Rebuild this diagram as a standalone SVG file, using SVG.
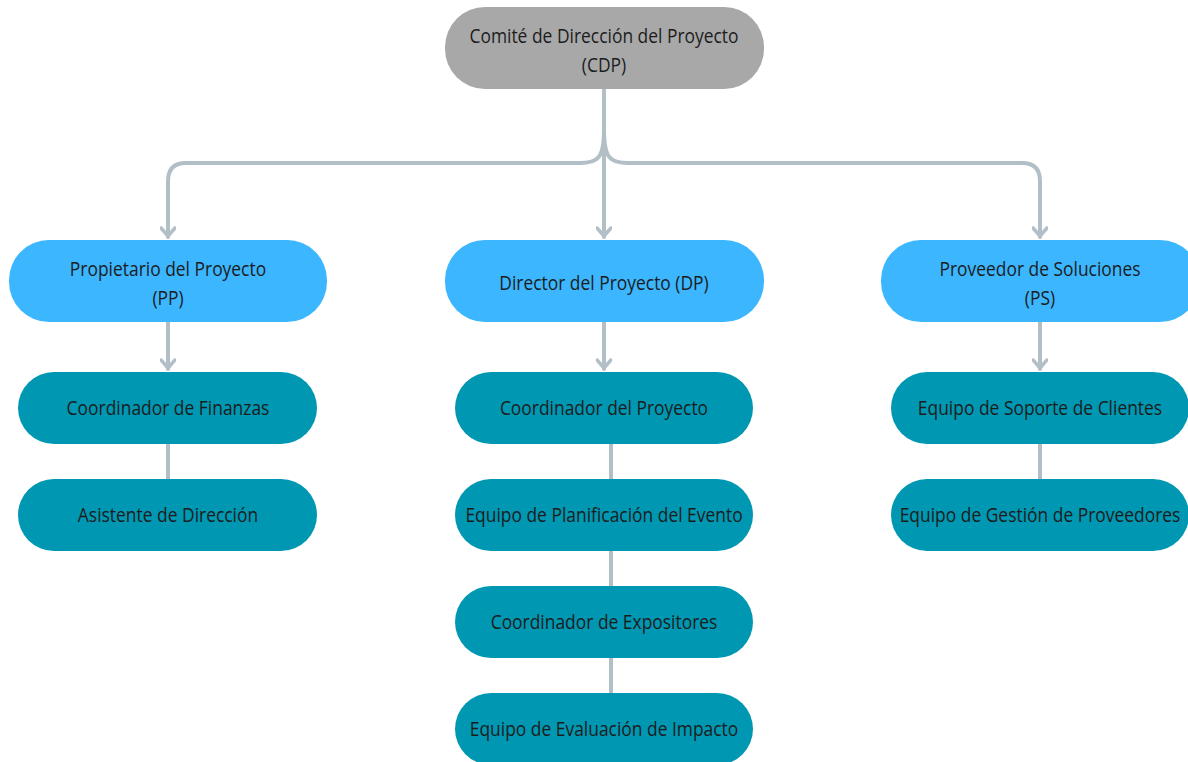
<svg xmlns="http://www.w3.org/2000/svg" width="1188" height="762" viewBox="0 0 1188 762">
<defs>
<style>
.t{font-family:"Open Sans","Noto Sans",sans-serif;font-size:20.5px;fill:#1c1c1c;text-anchor:middle}
.c{fill:none;stroke:#b3bfc7;stroke-width:4;stroke-linecap:round;stroke-linejoin:round}
.g{fill:#a8a8a8}
.b{fill:#3bb6ff}
.k{fill:#0097b2}
</style>
<marker id="ad" viewBox="0 0 16 12" refX="8" refY="11" markerWidth="16" markerHeight="12" markerUnits="userSpaceOnUse" orient="0">
<path d="M1,2 L8,10 L15,2" fill="none" stroke="#b3bfc7" stroke-width="3.5" stroke-linecap="round" stroke-linejoin="round"/>
</marker>
</defs>
<rect width="1188" height="762" fill="#ffffff"/>
<g id="connectors">
<path class="c" d="M604,89 L604,237" marker-end="url(#ad)"/>
<path class="c" d="M604,130 C604,158 598,163 580,163 L186,163 Q168,163 168,181 L168,237" marker-end="url(#ad)"/>
<path class="c" d="M604,130 C604,158 610,163 628,163 L1022,163 Q1040,163 1040,181 L1040,237" marker-end="url(#ad)"/>
<path class="c" d="M168,322 L168,369" marker-end="url(#ad)"/>
<path class="c" d="M604,322 L604,369" marker-end="url(#ad)"/>
<path class="c" d="M1040,322 L1040,369" marker-end="url(#ad)"/>
<path class="c" d="M168,444 L168,479"/>
<path class="c" d="M1040,444 L1040,479"/>
<path class="c" d="M611,444 L611,479"/>
<path class="c" d="M611,551 L611,586"/>
<path class="c" d="M611,658 L611,693"/>
</g>
<g id="cdp"><rect class="g" x="445" y="7" width="319" height="82" rx="40"/><text class="t" transform="translate(604,43) scale(0.85,1)">Comité de Dirección del Proyecto</text><text class="t" transform="translate(604,72) scale(0.85,1)">(CDP)</text></g>
<g id="pp"><rect class="b" x="9" y="240" width="318" height="82" rx="40"/><text class="t" transform="translate(168,276) scale(0.85,1)">Propietario del Proyecto</text><text class="t" transform="translate(168,305) scale(0.85,1)">(PP)</text></g>
<g id="dp"><rect class="b" x="445" y="240" width="319" height="82" rx="40"/><text class="t" transform="translate(604,290) scale(0.85,1)">Director del Proyecto (DP)</text></g>
<g id="ps"><rect class="b" x="881" y="240" width="319" height="82" rx="40"/><text class="t" transform="translate(1040,276) scale(0.85,1)">Proveedor de Soluciones</text><text class="t" transform="translate(1040,305) scale(0.85,1)">(PS)</text></g>
<g id="cf"><rect class="k" x="18" y="372" width="299" height="72" rx="36"/><text class="t" transform="translate(168,415) scale(0.85,1)">Coordinador de Finanzas</text></g>
<g id="ad1"><rect class="k" x="18" y="479" width="299" height="72" rx="36"/><text class="t" transform="translate(168,522) scale(0.85,1)">Asistente de Dirección</text></g>
<g id="cp"><rect class="k" x="455" y="372" width="298" height="72" rx="36"/><text class="t" transform="translate(604,415) scale(0.85,1)">Coordinador del Proyecto</text></g>
<g id="epe"><rect class="k" x="455" y="479" width="298" height="72" rx="36"/><text class="t" transform="translate(604,522) scale(0.85,1)">Equipo de Planificación del Evento</text></g>
<g id="ce"><rect class="k" x="455" y="586" width="298" height="72" rx="36"/><text class="t" transform="translate(604,629) scale(0.85,1)">Coordinador de Expositores</text></g>
<g id="eei"><rect class="k" x="455" y="693" width="298" height="72" rx="36"/><text class="t" transform="translate(604,736) scale(0.85,1)">Equipo de Evaluación de Impacto</text></g>
<g id="esc"><rect class="k" x="891" y="372" width="298" height="72" rx="36"/><text class="t" transform="translate(1040,415) scale(0.85,1)">Equipo de Soporte de Clientes</text></g>
<g id="egp"><rect class="k" x="891" y="479" width="298" height="72" rx="36"/><text class="t" transform="translate(1040,522) scale(0.85,1)">Equipo de Gestión de Proveedores</text></g>
</svg>
